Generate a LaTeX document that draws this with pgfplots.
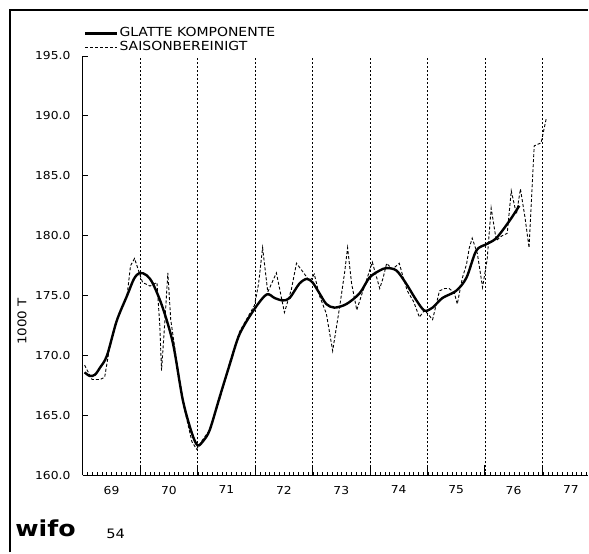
\documentclass[border=0pt]{standalone}
\usepackage{fontspec}
\setmainfont{DejaVu Sans}
\newfontfamily\plt[FakeStretch=1.12]{DejaVu Sans}
\usepackage{pgfplots}
\pgfplotsset{compat=1.18}

% glatte Komponente
\pgfplotstableread{
x y
1969.03 168.6
1969.12 168.3
1969.21 168.4
1969.30 169.0
1969.42 170.0
1969.59 172.9
1969.77 175.0
1969.89 176.4
1969.99 176.9
1970.11 176.7
1970.22 176.0
1970.39 174.0
1970.57 171.0
1970.74 166.3
1970.90 163.5
1971.00 162.5
1971.10 162.9
1971.21 163.8
1971.38 166.5
1971.56 169.3
1971.73 171.8
1971.99 173.9
1972.20 175.1
1972.34 174.8
1972.48 174.6
1972.60 174.8
1972.77 176.0
1972.90 176.4
1973.00 176.1
1973.12 175.2
1973.24 174.3
1973.38 174.0
1973.59 174.3
1973.82 175.2
1973.99 176.5
1974.17 177.1
1974.29 177.3
1974.46 177.1
1974.63 176.0
1974.81 174.6
1974.95 173.75
1975.09 174.0
1975.26 174.8
1975.50 175.4
1975.68 176.5
1975.85 178.75
1976.03 179.3
1976.20 179.8
1976.43 181.25
1976.60 182.5
}\glatt

% saisonbereinigt
\pgfplotstableread{
x y
1969.03 169.2
1969.16 168.0
1969.30 168.0
1969.38 168.2
1969.47 170.8
1969.56 172.6
1969.64 173.5
1969.77 175.0
1969.83 177.5
1969.90 178.1
1969.99 176.8
1970.04 176.1
1970.17 175.8
1970.29 176.1
1970.34 172.5
1970.37 168.75
1970.43 173.0
1970.48 176.9
1970.53 173.0
1970.65 169.0
1970.77 165.5
1970.90 162.8
1970.98 162.2
1971.09 163.0
1971.21 163.8
1971.38 166.3
1971.56 169.5
1971.73 172.0
1971.87 173.2
1971.99 174.2
1972.06 176.0
1972.13 179.0
1972.22 175.3
1972.37 176.9
1972.51 173.6
1972.63 175.5
1972.72 177.7
1972.83 177.0
1972.95 176.2
1973.03 176.8
1973.12 175.0
1973.24 173.5
1973.35 170.4
1973.47 174.0
1973.56 177.0
1973.61 179.0
1973.68 176.0
1973.77 173.8
1973.85 175.0
1973.94 176.3
1974.04 177.8
1974.17 175.6
1974.23 176.5
1974.29 177.7
1974.39 177.2
1974.51 177.7
1974.58 176.5
1974.65 175.4
1974.76 174.5
1974.86 173.2
1974.95 173.8
1975.09 173.0
1975.21 175.4
1975.30 175.6
1975.38 175.6
1975.47 175.2
1975.52 174.3
1975.61 176.5
1975.68 177.6
1975.73 179.0
1975.78 179.8
1975.87 178.5
1975.96 175.7
1976.04 178.0
1976.11 182.3
1976.20 179.6
1976.30 180.0
1976.39 180.2
1976.46 183.75
1976.55 181.8
1976.62 183.9
1976.70 181.5
1976.77 179.0
1976.86 187.5
1976.98 187.75
1977.07 189.8
}\saison

\begin{document}
\begin{tikzpicture}
\begin{axis}[
  scale only axis, width=506pt, height=420pt,
  xmin=1969, xmax=1977.8, ymin=160, ymax=195,
  clip=false,
  axis x line=bottom, axis y line=left,
  x axis line style={-, line width=1.6pt},
  y axis line style={-, line width=1.2pt},
  tick align=inside,
  tick style={black, line width=0.8pt},
  xtick={1969.5,1970.5,...,1977.5},
  xticklabels={69,70,71,72,73,74,75,76,77},
  major x tick style={draw=none},
  x tick label style={font=\plt\fontsize{11}{11}\selectfont, yshift=-7pt},
  minor xtick={1969,1969.083333,...,1977.8},
  minor tick length=3pt,
  extra x ticks={1970,1971,...,1977},
  extra x tick labels={},
  extra x tick style={grid=major, major tick length=10pt, major x tick style={draw=black}},
  major grid style={black, line width=0.6pt, dash pattern=on 2pt off 2pt},
  ytick={160,165,...,195},
  yticklabels={160.0,165.0,170.0,175.0,180.0,185.0,190.0,195.0},
  major tick length=5pt,
  y tick label style={font=\plt\fontsize{11}{11}\selectfont, xshift=-9pt},
  legend image code/.code={\draw[#1] (0pt,0pt) -- (32pt,0pt);},
  legend style={at={(axis cs:1969.02,197.45)}, anchor=north west, draw=none, fill=none,
    inner sep=0pt, row sep=0pt,
    nodes={inner sep=1pt, text height=9pt, text depth=2.5pt},
    font=\plt\fontsize{12.5}{12.5}\selectfont},
  legend cell align=left,
]
\path (axis cs:1967.557,153.58) rectangle (axis cs:1977.8,199.67);
\draw[line width=1.4pt] (axis cs:1967.73,153.58) -- (axis cs:1967.73,198.83) -- (axis cs:1977.8,198.83);

\addplot[black, line width=2.4pt, smooth] table[x=x,y=y] {\glatt};
\addlegendentry{GLATTE KOMPONENTE}
\addplot[black, line width=0.9pt, dash pattern=on 3pt off 2pt] table[x=x,y=y] {\saison};
\addlegendentry{SAISONBEREINIGT}

\node[rotate=90, font=\plt\fontsize{12}{12}\selectfont] at (axis cs:1967.94,172.83) {1000 T};
\node[font=\bfseries\fontsize{22}{22}\selectfont, xscale=1.15] at (axis cs:1968.35,155.6) {wifo};
\node[font=\plt\fontsize{13}{13}\selectfont] at (axis cs:1969.57,155.1) {54};
\end{axis}
\end{tikzpicture}
\end{document}
